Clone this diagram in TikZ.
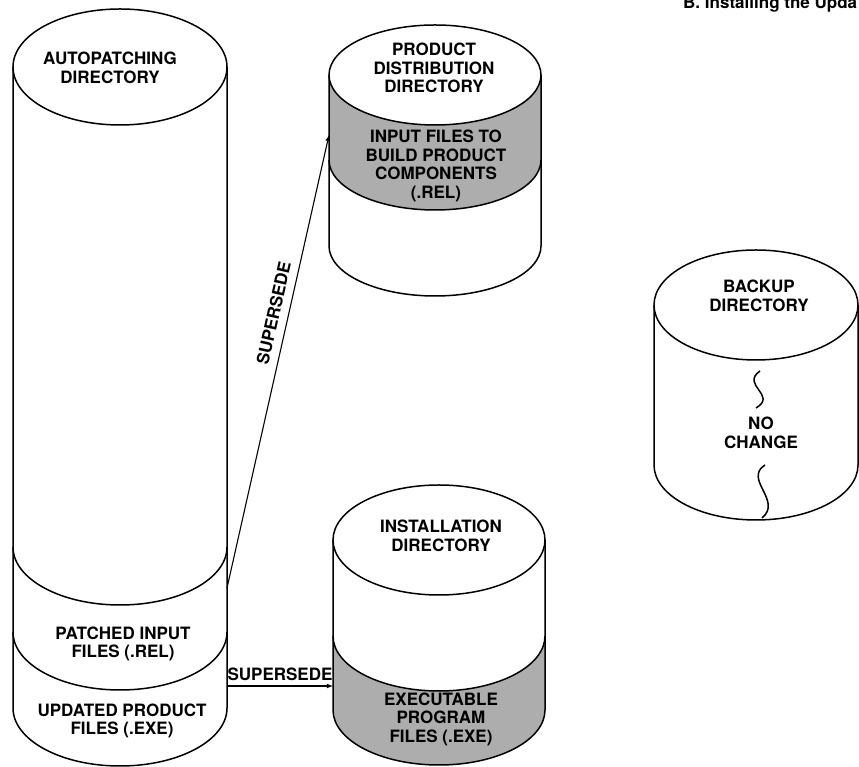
\documentclass[tikz,border=0pt]{standalone}
\usepackage{fontspec}
\setmainfont{TeX Gyre Heros}
\newcommand{\lblfont}{\fontsize{17}{18.5}\selectfont\bfseries}
\tikzset{
  cyl/.style={line width=1.5pt},
  halftone/.style={fill=black!32},
  lbl/.style={font=\lblfont, align=center, inner sep=2pt},
  flow/.style={line width=1.1pt, -latex},
}
\begin{document}
\begin{tikzpicture}[x=1pt, y=1pt]
    \useasboundingbox (0,0) rectangle (859,767);
    % autopatching directory
    \draw[cyl] (13,700) -- (13,59) arc[start angle=180, end angle=360, x radius=107, y radius=58] -- (227,700);
    \draw[cyl] (120,700) ellipse [x radius=107, y radius=58];
    \draw[cyl] (13,220) arc[start angle=180, end angle=360, x radius=107, y radius=58];
    \draw[cyl] (13,135) arc[start angle=180, end angle=360, x radius=107, y radius=58];
    % product distribution directory
    \fill[halftone] (329,692) arc[start angle=180, end angle=360, x radius=106, y radius=50]
        -- (541,607) arc[start angle=0, end angle=-180, x radius=106, y radius=50] -- cycle;
    \draw[cyl] (329,692) -- (329,521) arc[start angle=180, end angle=360, x radius=106, y radius=50] -- (541,692);
    \draw[cyl] (435,692) ellipse [x radius=106, y radius=50];
    \draw[cyl] (329,607) arc[start angle=180, end angle=360, x radius=106, y radius=50];
    % installation directory
    \fill[halftone] (333,131) arc[start angle=180, end angle=360, x radius=106, y radius=55]
        -- (545,57) arc[start angle=0, end angle=-180, x radius=106, y radius=55] -- cycle;
    \draw[cyl] (333,227) -- (333,57) arc[start angle=180, end angle=360, x radius=106, y radius=55] -- (545,227);
    \draw[cyl] (439,227) ellipse [x radius=106, y radius=55];
    \draw[cyl] (333,131) arc[start angle=180, end angle=360, x radius=106, y radius=55];
    % backup directory
    \draw[cyl] (654,462) -- (654,302) arc[start angle=180, end angle=360, x radius=102, y radius=55] -- (858,462);
    \draw[cyl] (756,462) ellipse [x radius=102, y radius=55];
    \draw[line width=1.5pt] (760,396) .. controls (740,382) and (778,372) .. (756,359);
    \draw[line width=1.5pt] (765,302) .. controls (743,288) and (783,266) .. (762,249);

    \node(header)     at (683,758) [anchor=base west, inner sep=0pt, font=\fontsize{17}{20}\selectfont\bfseries] {B. Installing the Upda};
    \node(autotext)   at (110,699) [lbl] {AUTOPATCHING\\DIRECTORY};
    \node(patched)    at (123,123) [lbl] {PATCHED INPUT\\FILES (.REL)};
    \node(updated)    at (122,46)  [lbl] {UPDATED PRODUCT\\FILES (.EXE)};
    \node(distext)    at (434,699) [lbl] {PRODUCT\\DISTRIBUTION\\DIRECTORY};
    \node(inputfiles) at (436,601) [lbl] {INPUT FILES TO\\BUILD PRODUCT\\COMPONENTS\\(.REL)};
    \node(insttext)   at (441,231) [lbl] {INSTALLATION\\DIRECTORY};
    \node(exefiles)   at (441,48)  [lbl] {EXECUTABLE\\PROGRAM\\FILES (.EXE)};
    \node(backtext)   at (759,471) [lbl] {BACKUP\\DIRECTORY};
    \node(nochange)   at (761,334) [lbl] {NO\\CHANGE};

    \coordinate(relout) at (227,179);
    \coordinate(disin)  at (329,632);
    \coordinate(exeout) at (227,81);
    \coordinate(instin) at (333,81);
    \draw[flow] (relout) -- node[lbl, sloped, above=6pt, pos=0.6] {SUPERSEDE} (disin);
    \draw[flow] (exeout) -- node[lbl, above=3pt] {SUPERSEDE} (instin);
\end{tikzpicture}
\end{document}
